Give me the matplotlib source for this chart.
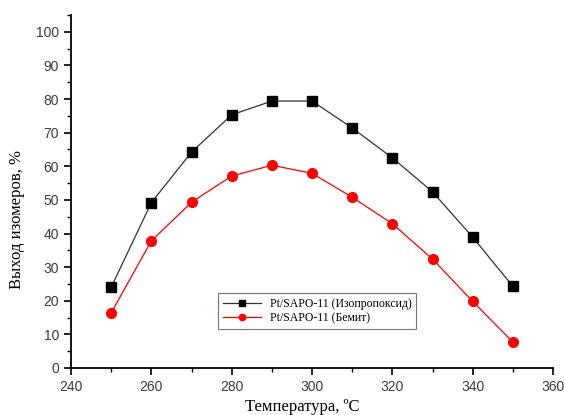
import matplotlib
matplotlib.use("Agg")
import matplotlib.pyplot as plt
from matplotlib.ticker import MultipleLocator

temps = [250, 260, 270, 280, 290, 300, 310, 320, 330, 340, 350]
isopropoxide = [24.0, 49.2, 64.2, 75.3, 79.4, 79.4, 71.4, 62.5, 52.4, 38.9, 24.3]
boehmite = [16.4, 37.8, 49.3, 57.1, 60.3, 57.9, 50.8, 42.9, 32.4, 19.8, 7.7]
labels = ["Pt/SAPO-11 (Изопропоксид)", "Pt/SAPO-11 (Бемит)"]

fig = plt.figure(figsize=(5.65, 4.15), dpi=100)
ax = fig.add_axes([0.1257, 0.1133, 0.8531, 0.8506])

ax.plot(temps, isopropoxide, color="#333333", lw=0.9, marker="s", ms=6.5,
        mfc="black", mec="black", label=labels[0])
ax.plot(temps, boehmite, color="red", lw=0.9, marker="o", ms=7,
        mfc="red", mec="red", label=labels[1])

ax.set_xlim(240, 360)
ax.set_ylim(0, 105)
ax.xaxis.set_major_locator(MultipleLocator(20))
ax.xaxis.set_minor_locator(MultipleLocator(10))
ax.yaxis.set_minor_locator(MultipleLocator(5))
ax.set_yticks(range(0, 101, 10))
for s in ["top", "right"]:
    ax.spines[s].set_visible(False)
for s in ["left", "bottom"]:
    ax.spines[s].set_linewidth(1.3)
ax.tick_params(which="major", direction="out", length=5, width=1.2,
               labelsize=10, labelcolor="#3a3a48")
ax.tick_params(which="minor", direction="out", length=3, width=1.0)
for lab in ax.get_xticklabels() + ax.get_yticklabels():
    lab.set_family("Liberation Sans")

ax.set_xlabel("Температура, ºC", family="Liberation Serif", fontsize=12)
ax.set_ylabel("Выход изомеров, %", family="Liberation Serif", fontsize=12)
ax.xaxis.set_label_coords(0.479, -0.088)
ax.yaxis.set_label_coords(-0.095, 0.422)

leg = ax.legend(loc="lower left", bbox_to_anchor=(0.305, 0.11), borderaxespad=0,
                prop={"family": "Liberation Serif", "size": 8.5},
                frameon=True, fancybox=False, edgecolor="#555555", handlelength=3.2,
                borderpad=0.4, labelspacing=0.2, markerscale=0.65)
leg.get_frame().set_linewidth(0.8)

fig.savefig("out.png", dpi=100)
